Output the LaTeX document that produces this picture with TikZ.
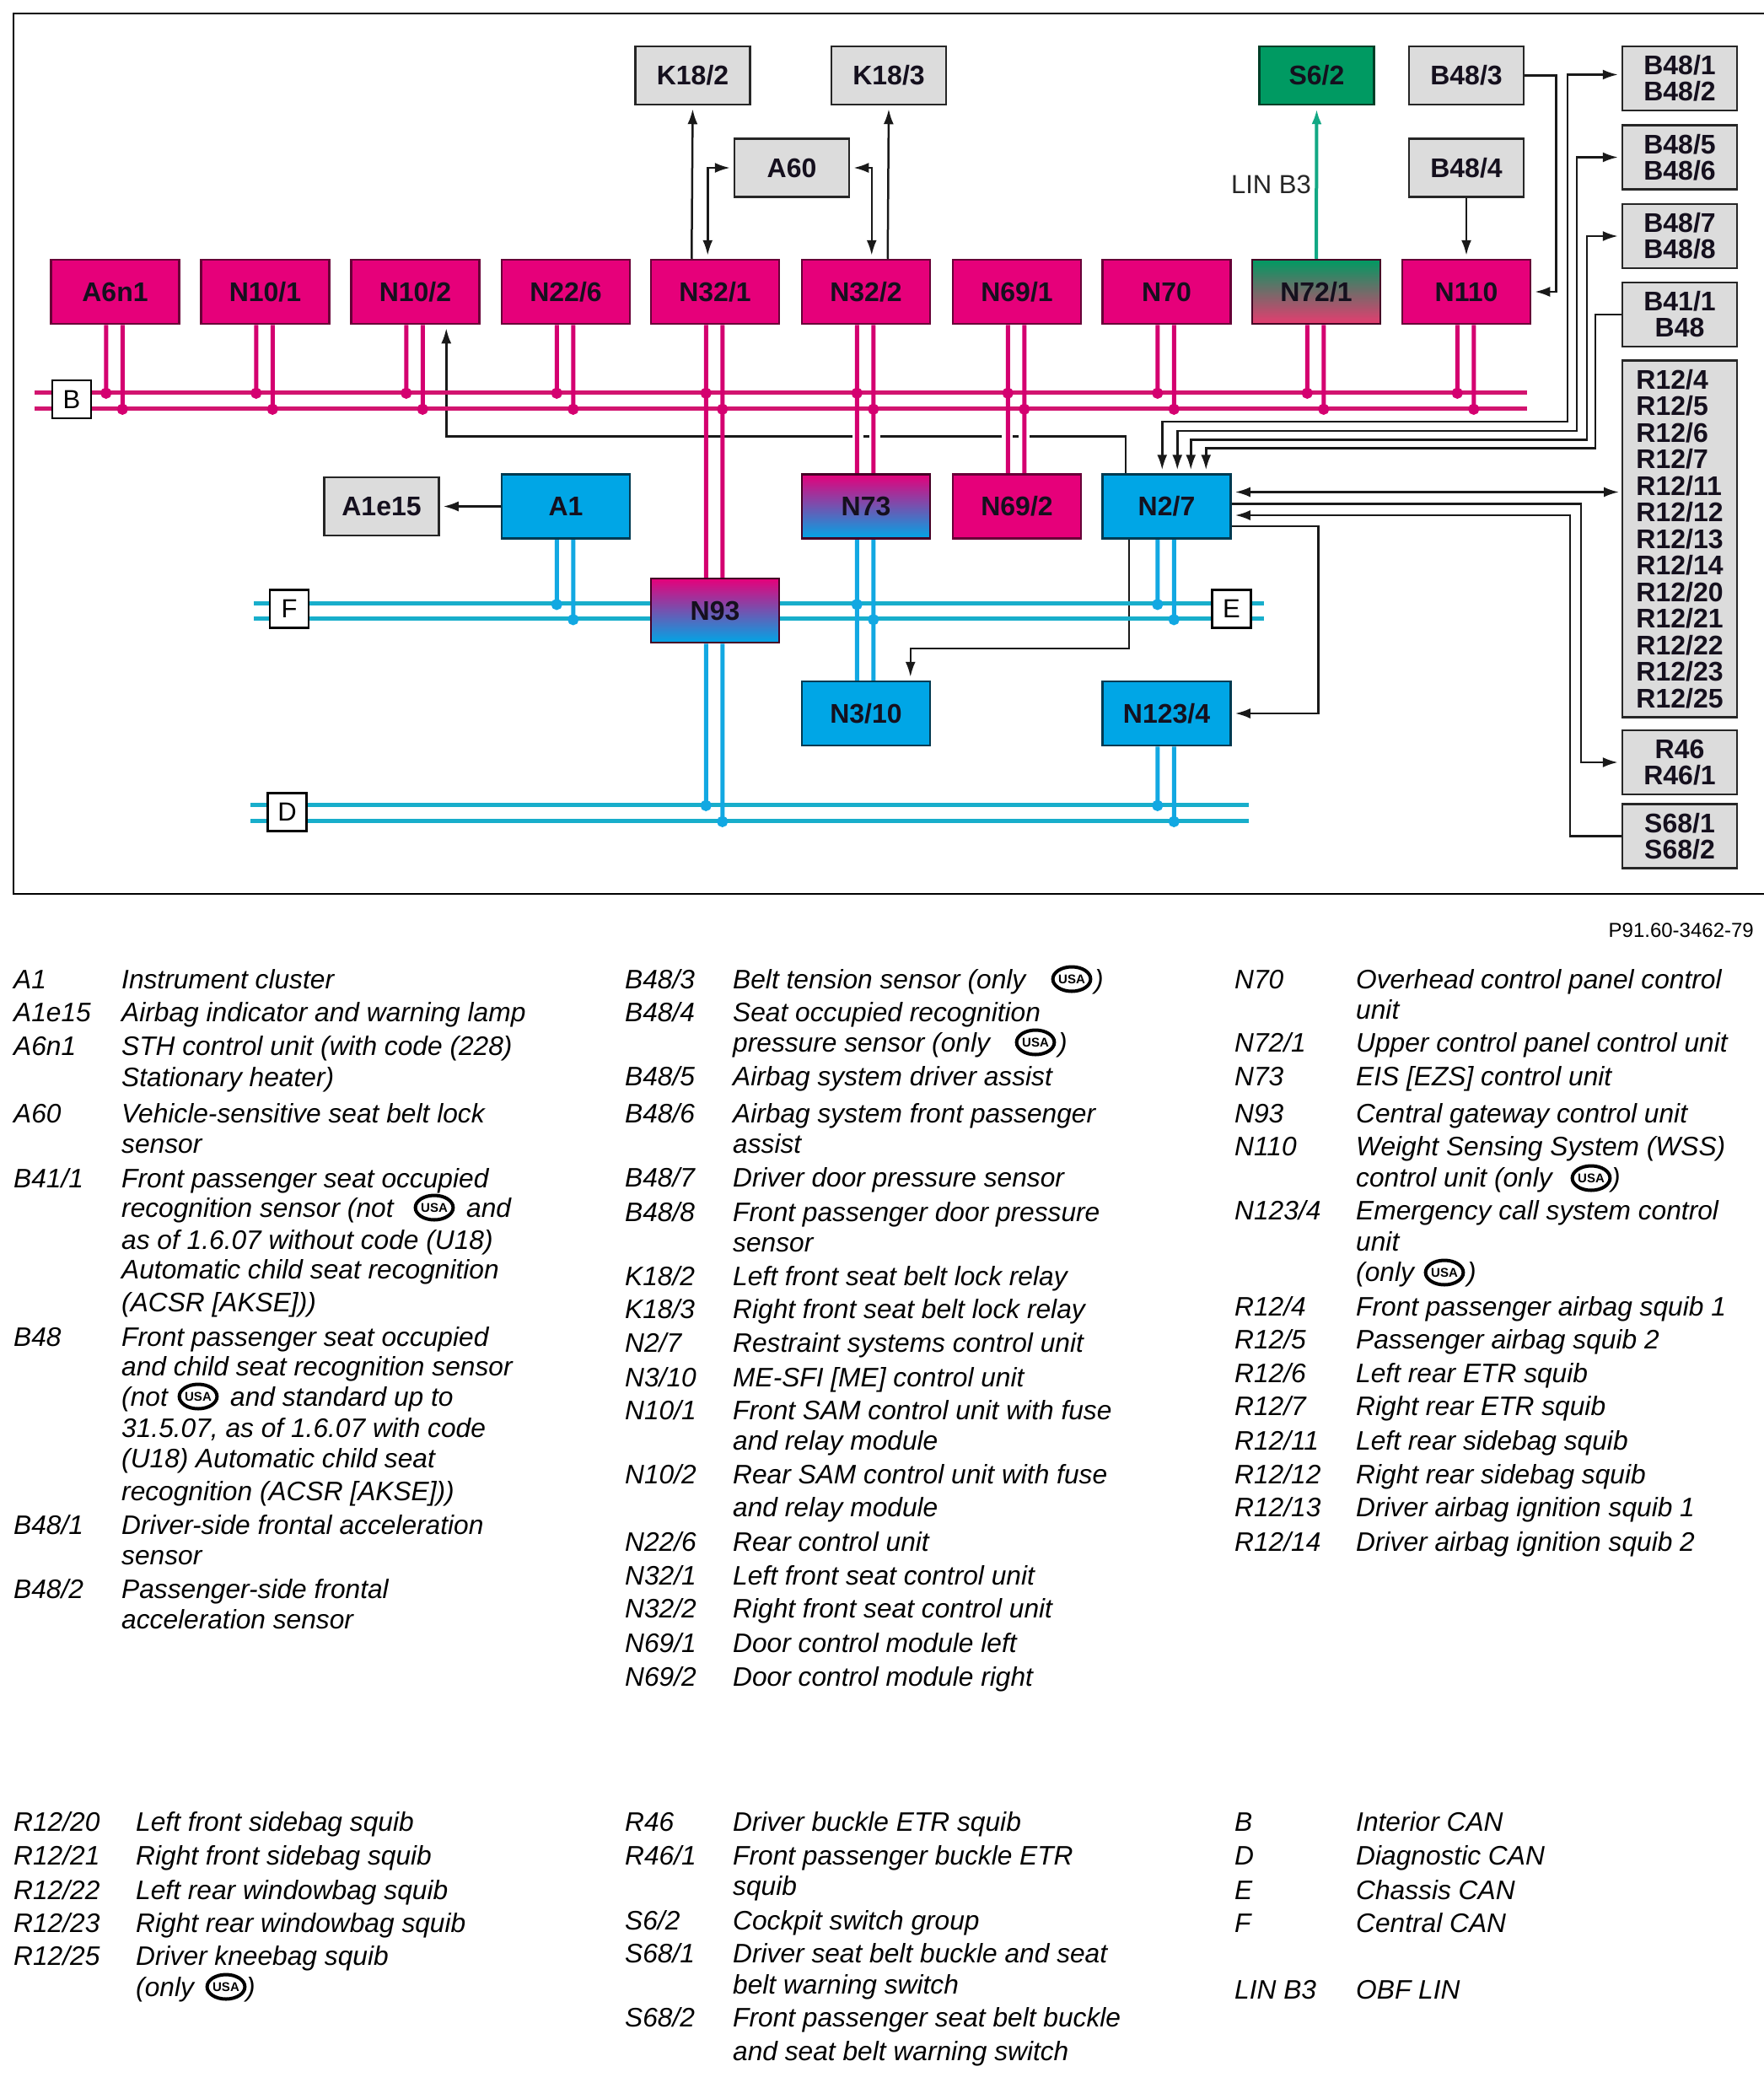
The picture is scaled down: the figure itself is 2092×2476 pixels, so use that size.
\documentclass[tikz,border=0pt]{standalone}
\usepackage{fontspec}
\setmainfont{Liberation Sans}
\usetikzlibrary{arrows.meta,backgrounds,shapes.geometric}
\definecolor{modmag}{HTML}{E6007A}
\definecolor{modblue}{HTML}{00A6E6}
\definecolor{modgreen}{HTML}{009A62}
\definecolor{modgray}{HTML}{DCDCDC}
\definecolor{modmix}{HTML}{B0609C}
\definecolor{greenmix}{HTML}{7F8A78}
\definecolor{pinkend}{HTML}{E63C70}
\definecolor{busmag}{HTML}{D2146F}
\definecolor{busteal}{HTML}{18AECB}
\definecolor{stubblue}{HTML}{12A8E2}
\definecolor{linkgreen}{HTML}{12A884}
\definecolor{inkdark}{HTML}{15101E}
\tikzset{
  modbox/.style={draw,line width=2.5pt,text=inkdark,inner sep=0pt,minimum width=152pt,minimum height=76pt,font=\fontsize{32}{31}\selectfont\bfseries},
  magbox/.style={modbox,draw=modmag!45!black,fill=modmag},
  bluebox/.style={modbox,draw=modblue!35!black,fill=modblue},
  mixbox/.style={modbox,draw=modmag!30!black,top color=modmag,middle color=modmix,bottom color=modblue},
  grnbox/.style={modbox,draw=modmag!30!black,top color=modgreen,middle color=greenmix,bottom color=pinkend},
  graybox/.style={modbox,draw=black!85,fill=modgray,minimum width=136pt,minimum height=69pt},
  tagbox/.style={draw,line width=2.5pt,fill=white,inner sep=0pt,minimum width=46pt,minimum height=45pt,font=\fontsize{31}{31}\selectfont},
  sig/.style={draw=black!90,line width=2.5pt},
  arr/.style={-{Latex[length=18pt,width=12pt]},shorten >=4pt},
  arrb/.style={{Latex[length=18pt,width=12pt]}-{Latex[length=18pt,width=12pt]},shorten >=4pt,shorten <=4pt},
  canb/.style={draw=modmag!92!black,fill=modmag!92!black,line width=5pt},
  canf/.style={draw=stubblue,fill=stubblue,line width=5pt},
  legtext/.style={anchor=base west,inner sep=0pt,font=\fontsize{31.7}{36}\selectfont\itshape},
  usamark/.style={ellipse,draw,line width=4pt,inner sep=0pt,minimum width=44pt,minimum height=29pt,font=\fontsize{15}{15}\selectfont\bfseries}
}
\begin{document}
\begin{tikzpicture}[x=1pt,y=-1pt]
\useasboundingbox (0,0) rectangle (2092,2476);
\draw[line width=2.5pt] (2092,16) -- (16,16) -- (16,1060) -- (2092,1060);

\foreach \nm/\xx/\lab in {nA6/136.5/A6n1,n101/314.5/{N10/1},n102/492.5/{N10/2},n226/671/{N22/6},n321/848/{N32/1},n322/1027/{N32/2},n691/1206/{N69/1},n70/1383.5/N70,n110/1739/N110}{
  \node[magbox] (\nm) at (\xx,346) {\lab};
}
\node[grnbox] (n721) at (1561,346) {N72/1};
\node[bluebox] (a1) at (671,600.5) {A1};
\node[mixbox] (n73) at (1027,600.5) {N73};
\node[magbox] (n692) at (1206,600.5) {N69/2};
\node[bluebox] (n27) at (1383.5,600.5) {N2/7};
\node[mixbox] (n93) at (848,724) {N93};
\node[bluebox] (n310) at (1027,846) {N3/10};
\node[bluebox] (n1234) at (1383.5,846) {N123/4};

\node[graybox] (a1e) at (452.5,600.5) {A1e15};
\node[graybox] (k182) at (821.5,89.5) {K18/2};
\node[graybox] (k183) at (1054,89.5) {K18/3};
\node[graybox] (a60) at (939,199) {A60};
\node[graybox,draw=modgreen!40!black,fill=modgreen] (s62) at (1561.5,89.5) {S6/2};
\node[graybox] (b483) at (1739,89.5) {B48/3};
\node[graybox] (b484) at (1739,199) {B48/4};
\node[graybox,minimum height=76pt,align=center] (b481) at (1992,93) {B48/1\\B48/2};
\node[graybox,minimum height=76pt,align=center] (b485) at (1992,186.5) {B48/5\\B48/6};
\node[graybox,minimum height=76pt,align=center] (b487) at (1992,280) {B48/7\\B48/8};
\node[graybox,minimum height=76pt,align=center] (b411) at (1992,373) {B41/1\\B48};
\node[graybox,minimum height=423pt,align=left] (r12) at (1992,639) {R12/4\\[.5pt]R12/5\\[.5pt]R12/6\\[.5pt]R12/7\\[.5pt]R12/11\\[.5pt]R12/12\\[.5pt]R12/13\\[.5pt]R12/14\\[.5pt]R12/20\\[.5pt]R12/21\\[.5pt]R12/22\\[.5pt]R12/23\\[.5pt]R12/25};
\node[graybox,minimum height=76pt,align=center] (r46) at (1992,904) {R46\\R46/1};
\node[graybox,minimum height=76pt,align=center] (s68) at (1992,991.5) {S68/1\\S68/2};

\node[tagbox] (tagb) at (85,473.5) {B};
\node[tagbox] (tagf) at (343,722) {F};
\node[tagbox] (tage) at (1460.5,722) {E};
\node[tagbox] (tagd) at (340.5,963) {D};

\node[anchor=base east,inner sep=0pt,font=\fontsize{31}{31}\selectfont,text=black!85] (linb3) at (1555,229) {LIN B3};

\begin{scope}[on background layer]
\draw[sig,arr] ([xshift=49.5pt]n321.north west) -- (k182.south);
\draw[sig,arr] ([xshift=103pt]n322.north west) -- (k183.south);
\draw[sig,arrb] (a60.west) -| ([xshift=68.5pt]n321.north west);
\draw[sig,arrb] (a60.east) -| ([xshift=84pt]n322.north west);
\draw[sig,arr] (b484.south) -- (n110.north);
\draw[sig,arr] (b483.east) -- ++(37,0) |- (n110.east);
\draw[sig,arr] (a1.west) -- (a1e.east);
\draw[linkgreen,line width=4pt,arr] (n721.north) -- (s62.south);

\draw[sig,arrb] ([yshift=4.5pt]b481.west) -| (1859,500) -| ([xshift=72pt]n27.north west);
\draw[sig,arrb] (b485.west) -| (1870,511) -| ([xshift=90pt]n27.north west);
\draw[sig,arrb] (b487.west) -| (1882,521.5) -| ([xshift=106pt]n27.north west);
\draw[sig,arr] (b411.west) -| (1892,531.5) -| ([xshift=124pt]n27.north west);

\coordinate (r12in) at (1924,583.5);
\draw[sig,arrb] ([yshift=17pt]n27.east) -- (r12in);
\draw[sig,arr] ([yshift=3pt]n27.east) -| (1875,904) -- (r46.west);
\draw[sig,arr] (s68.west) -| (1862,611) -- ([yshift=-10.5pt]n27.east);
\draw[sig,arr] ([yshift=-23.5pt]n27.east) -- ++(102.5,0) |- (n1234.east);
\draw[sig,arr] ([xshift=32.5pt]n27.south west) -- ++(0,129) -| ([xshift=130pt]n310.north west);
\draw[sig,arr] ([xshift=28.5pt]n27.north west) -- ++(0,-44) -| ([xshift=114pt]n102.south west);
\foreach \xa/\xb in {1011/1023.5,1030.5/1044,1188/1200.5,1207.5/1221}{
  \fill[white] (\xa,511) rectangle (\xb,527);
}

\foreach \yy in {465,484}{
  \coordinate (bbl\yy) at (41,\yy);
  \coordinate (bbr\yy) at (1811,\yy);
  \draw[busmag,line width=5pt] (bbl\yy) -- (bbr\yy);
}
\foreach \yy in {715,733}{
  \coordinate (ffl\yy) at (301,\yy);
  \coordinate (ffr\yy) at (1498.5,\yy);
  \draw[busteal,line width=5pt] (ffl\yy) -- (ffr\yy);
}
\foreach \yy in {954,973}{
  \coordinate (ddl\yy) at (297,\yy);
  \coordinate (ddr\yy) at (1480.5,\yy);
  \draw[busteal,line width=5pt] (ddl\yy) -- (ddr\yy);
}

\foreach \nm in {nA6,n101,n102,n226,n70,n721,n110}{
  \draw[canb] ([xshift=66.5pt]\nm.south west) -- ++(0,81) circle[radius=4];
  \draw[canb] ([xshift=86pt]\nm.south west) -- ++(0,100) circle[radius=4];
}
\foreach \up/\dn in {n321/n93,n322/n73,n691/n692}{
  \draw[canb] ([xshift=66.5pt]\up.south west) -- ++(0,81) circle[radius=4] -- ([xshift=66.5pt]\dn.north west);
  \draw[canb] ([xshift=86pt]\up.south west) -- ++(0,100) circle[radius=4] -- ([xshift=86pt]\dn.north west);
}
\foreach \nm in {a1,n27}{
  \draw[canf] ([xshift=66.5pt]\nm.south west) -- ++(0,77) circle[radius=4];
  \draw[canf] ([xshift=86pt]\nm.south west) -- ++(0,95) circle[radius=4];
}
\draw[canf] ([xshift=66.5pt]n73.south west) -- ++(0,77) circle[radius=4] -- ([xshift=66.5pt]n310.north west);
\draw[canf] ([xshift=86pt]n73.south west) -- ++(0,95) circle[radius=4] -- ([xshift=86pt]n310.north west);
\draw[canf] ([xshift=66.5pt]n93.south west) -- ++(0,192) circle[radius=4];
\draw[canf] ([xshift=86pt]n93.south west) -- ++(0,211) circle[radius=4];
\draw[canf] ([xshift=66.5pt]n1234.south west) -- ++(0,70) circle[radius=4];
\draw[canf] ([xshift=86pt]n1234.south west) -- ++(0,89) circle[radius=4];
\end{scope}

\node[anchor=base east,inner sep=0pt,font=\fontsize{24}{24}\selectfont] (pnum) at (2080,1111) {P91.60-3462-79};

\foreach \xx/\yy/\lab [count=\i] in {16/1172/A1,16/1211/A1e15,16/1251/A6n1,16/1331/A60,16/1408/{B41/1},16/1596/B48,16/1819/{B48/1},16/1895/{B48/2},
  741/1172/{B48/3},741/1211/{B48/4},741/1287/{B48/5},741/1331/{B48/6},741/1407/{B48/7},741/1448/{B48/8},741/1524/{K18/2},741/1563/{K18/3},741/1603/{N2/7},741/1644/{N3/10},741/1683/{N10/1},741/1759/{N10/2},741/1839/{N22/6},741/1879/{N32/1},741/1918/{N32/2},741/1959/{N69/1},741/1999/{N69/2},
  1464/1172/N70,1464/1247/{N72/1},1464/1287/N73,1464/1331/N93,1464/1370/N110,1464/1446/{N123/4},1464/1560/{R12/4},1464/1599/{R12/5},1464/1639/{R12/6},1464/1678/{R12/7},1464/1719/{R12/11},1464/1759/{R12/12},1464/1798/{R12/13},1464/1839/{R12/14},
  16/2171/{R12/20},16/2211/{R12/21},16/2252/{R12/22},16/2291/{R12/23},16/2330/{R12/25},
  741/2171/R46,741/2211/{R46/1},741/2288/{S6/2},741/2327/{S68/1},741/2403/{S68/2},
  1464/2171/B,1464/2211/D,1464/2252/E,1464/2291/F,1464/2370/LIN B3}{
  \node[legtext] (code\i) at (\xx,\yy) {\lab};
}
\foreach \xx/\yy/\lab [count=\i] in {144/1172/{Instrument cluster},144/1211/{Airbag indicator and warning lamp},144/1251/{STH control unit (with code (228)},144/1288/{Stationary heater)},144/1331/{Vehicle-sensitive seat belt lock},144/1367/{sensor},144/1408/{Front passenger seat occupied},144/1443/{recognition sensor (not},553/1443/{and},144/1481/{as of 1.6.07 without code (U18)},144/1516/{Automatic child seat recognition},144/1555/{(ACSR [AKSE]))},
  144/1596/{Front passenger seat occupied},144/1631/{and child seat recognition sensor},144/1667/{(not},273/1667/{and standard up to},144/1704/{31.5.07, as of 1.6.07 with code},144/1740/{(U18) Automatic child seat},144/1779/{recognition (ACSR [AKSE]))},144/1819/{Driver-side frontal acceleration},144/1855/{sensor},144/1895/{Passenger-side frontal},144/1931/{acceleration sensor},
  869/1172/{Belt tension sensor (only},1298/1172/{)},869/1211/{Seat occupied recognition},869/1247/{pressure sensor (only},1255/1247/{)},869/1287/{Airbag system driver assist},869/1331/{Airbag system front passenger},869/1367/{assist},869/1407/{Driver door pressure sensor},869/1448/{Front passenger door pressure},869/1484/{sensor},869/1524/{Left front seat belt lock relay},869/1563/{Right front seat belt lock relay},869/1603/{Restraint systems control unit},869/1644/{ME-SFI [ME] control unit},869/1683/{Front SAM control unit with fuse},869/1719/{and relay module},869/1759/{Rear SAM control unit with fuse},869/1798/{and relay module},869/1839/{Rear control unit},869/1879/{Left front seat control unit},869/1918/{Right front seat control unit},869/1959/{Door control module left},869/1999/{Door control module right},
  1608/1172/{Overhead control panel control},1608/1208/{unit},1608/1247/{Upper control panel control unit},1608/1287/{EIS [EZS] control unit},1608/1331/{Central gateway control unit},1608/1370/{Weight Sensing System (WSS)},1608/1407/{control unit (only},1911/1407/{)},1608/1446/{Emergency call system control},1608/1483/{unit},1608/1519/{(only},1740/1519/{)},1608/1560/{Front passenger airbag squib 1},1608/1599/{Passenger airbag squib 2},1608/1639/{Left rear ETR squib},1608/1678/{Right rear ETR squib},1608/1719/{Left rear sidebag squib},1608/1759/{Right rear sidebag squib},1608/1798/{Driver airbag ignition squib 1},1608/1839/{Driver airbag ignition squib 2},
  161/2171/{Left front sidebag squib},161/2211/{Right front sidebag squib},161/2252/{Left rear windowbag squib},161/2291/{Right rear windowbag squib},161/2330/{Driver kneebag squib},161/2367/{(only},292/2367/{)},
  869/2171/{Driver buckle ETR squib},869/2211/{Front passenger buckle ETR},869/2247/{squib},869/2288/{Cockpit switch group},869/2327/{Driver seat belt buckle and seat},869/2364/{belt warning switch},869/2403/{Front passenger seat belt buckle},869/2443/{and seat belt warning switch},
  1608/2171/{Interior CAN},1608/2211/{Diagnostic CAN},1608/2252/{Chassis CAN},1608/2291/{Central CAN},1608/2370/{OBF LIN}}{
  \node[legtext] (desc\i) at (\xx,\yy) {\lab};
}
\foreach \xx/\yy [count=\i] in {1271/1161,1228/1236,515/1432,235/1656,1887/1397,1713/1509,268/2356}{
  \node[usamark] (usa\i) at (\xx,\yy) {USA};
}
\end{tikzpicture}
\end{document}
